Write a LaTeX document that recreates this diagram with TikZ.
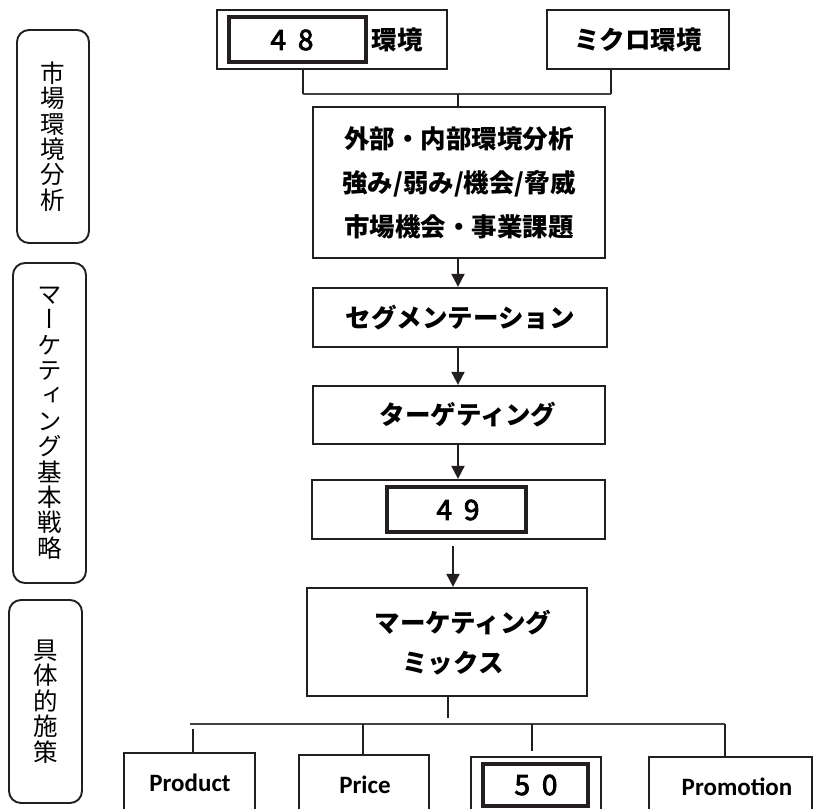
\documentclass[tikz,border=0pt]{standalone}
\usepackage{fontspec}
\usetikzlibrary{arrows.meta}
\setmainfont{Noto Sans CJK JP}
\newfontfamily\jpf{Noto Sans CJK JP}
\newfontfamily\vjpf[RawFeature=+vert]{Noto Sans CJK JP}
\newfontfamily\numf[WordSpace=1.9,FakeBold=3]{Noto Sans CJK JP}
\newfontfamily\latf{Carlito}
\definecolor{ink}{HTML}{231F20}
\tikzset{
  frame/.style={draw=ink, line width=2.3pt, inner sep=0pt, anchor=center},
  inbox/.style={draw=ink, line width=3.3pt, inner sep=0pt, anchor=center},
  lab/.style={draw=ink, line width=1.9pt, rounded corners=12pt, inner sep=0pt, align=center,
              font=\vjpf\fontsize{24.5}{25.4}\selectfont},
  txt/.style={font=\jpf\bfseries\fontsize{25.5}{44}\selectfont, inner sep=0pt, align=center},
  numt/.style={font=\numf\fontsize{28}{30}\selectfont, inner sep=0pt},
  latt/.style={font=\latf\bfseries\fontsize{25}{28}\selectfont, inner sep=0pt},
  conn/.style={draw=ink, line width=2pt},
  hline/.style={draw=ink!85, line width=1.3pt},
  arr/.style={conn, -{Triangle[length=13pt,width=13pt]}},
}
\begin{document}
\begin{tikzpicture}[x=1pt,y=-1pt]
\useasboundingbox (0,0) rectangle (815,809);
\clip (0,0) rectangle (815,809);
\fill[white] (0,0) rectangle (815,809);

% left labels
\node[lab, minimum width=72pt, minimum height=213pt] (lab1) at (53,136.5) {市\\場\\環\\境\\分\\析};
\node[lab, minimum width=73pt, minimum height=320pt] (lab2) at (49.5,423) {マ\\ー\\ケ\\テ\\ィ\\ン\\グ\\基\\本\\戦\\略};
\node[lab, minimum width=73pt, minimum height=203pt] (lab3) at (45.5,701.5) {具\\体\\的\\施\\策};

% top boxes
\node[frame, minimum width=230pt, minimum height=59pt] (env) at (332,39.5) {};
\node[inbox, minimum width=137pt, minimum height=45pt] (in48) at (297.5,39.5) {};
\node[numt] (t48) at (292,40) {4 8};
\node[txt] (envT) at (397,40) {環境};
\node[frame, minimum width=182pt, minimum height=59pt, txt] (micro) at (638,39.5) {ミクロ環境};

% junction top
\coordinate (jL) at (303,94);
\coordinate (jR) at (611,94);
\coordinate (jM) at (458,94);
\draw[conn] (env.south -| jL) -- (jL);
\draw[hline] (jL) -- (jR);
\draw[conn] (micro.south -| jR) -- (jR);

% analysis box
\node[frame, minimum width=292pt, minimum height=151pt, txt] (ana) at (459,182.5)
  {外部・内部環境分析\\強み/弱み/機会/脅威\\市場機会・事業課題};
\draw[conn] (jM) -- (ana.north -| jM);

\node[frame, minimum width=294pt, minimum height=59pt, txt] (seg) at (460,317.5) {セグメンテーション};
\node[frame, minimum width=292pt, minimum height=58pt] (tgt) at (459,415) {};
\node[txt] (tgtT) at (468,415) {ターゲティング};
\node[frame, minimum width=293pt, minimum height=59pt] (b49) at (458.5,509.5) {};
\node[inbox, minimum width=139pt, minimum height=45pt] (in49) at (456.5,509.5) {};
\node[numt] (t49) at (458,510) {4 9};

\draw[arr] (ana.south -| jM) -- (seg.north -| jM);
\draw[arr] (seg.south -| jM) -- (tgt.north -| jM);
\draw[arr] (tgt.south -| jM) -- (b49.north -| jM);

\node[frame, minimum width=280pt, minimum height=108pt] (mix) at (447,642) {};
\node[txt] (mixA) at (463,623) {マーケティング};
\node[txt] (mixB) at (453,663) {ミックス};
\coordinate (c4) at (453,560);
\draw[arr, shorten <=6pt] (b49.south -| c4) -- (mix.north -| c4);

% bottom junction
\coordinate (jB) at (448,724);
\coordinate (hL) at (190,724);
\coordinate (hR) at (725,724);
\coordinate (vP) at (193,724);
\coordinate (vPr) at (363,724);
\coordinate (v50) at (532,724);
\coordinate (vPm) at (725,724);
\draw[conn, shorten >=6pt] (mix.south -| jB) -- (jB);
\draw[hline] (hL) -- (hR);

% bottom boxes
\node[frame, minimum width=131pt, minimum height=77pt] (prod) at (189.5,791.5) {};
\node[latt] (prodT) at (190,783) {Product};
\node[frame, minimum width=130pt, minimum height=75pt] (price) at (364,792.5) {};
\node[latt] (priceT) at (365,785) {Price};
\node[frame, minimum width=130pt, minimum height=73pt] (p50) at (536,793.5) {};
\node[inbox, minimum width=105pt, minimum height=42pt] (in50) at (535.5,785) {};
\node[numt] (t50) at (536,785) {5 0};
\node[frame, minimum width=163pt, minimum height=73pt] (promo) at (730.5,793.5) {};
\node[latt] (promoT) at (737,787) {Promotion};

\draw[conn, shorten <=5pt] (vP) -- (prod.north -| vP);
\draw[conn] (vPr) -- (price.north -| vPr);
\draw[conn, shorten >=5pt] (v50) -- (p50.north -| v50);
\draw[conn] (vPm) -- (promo.north -| vPm);
\end{tikzpicture}
\end{document}
